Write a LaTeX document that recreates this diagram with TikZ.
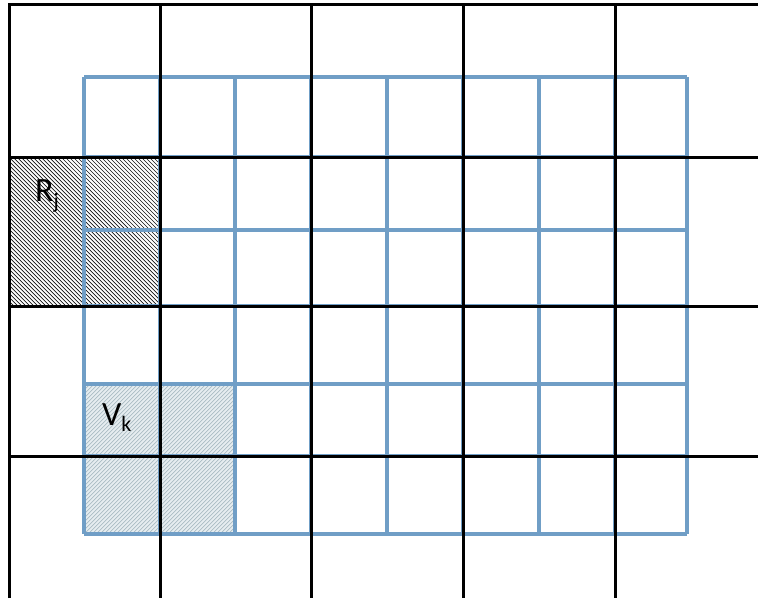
\documentclass[tikz,border=0pt]{standalone}
\usepackage{fontspec}
\setmainfont{Carlito}
\definecolor{gridblue}{RGB}{112,158,198}
\definecolor{vfill}{RGB}{230,237,240}
\definecolor{vline}{RGB}{170,188,195}
\definecolor{rline}{RGB}{20,20,20}
\begin{document}
\begin{tikzpicture}[x=1pt,y=-1pt,
  blackline/.style={line width=3pt,black},
  blueline/.style={line width=3.2pt,gridblue},
  rhatch/.style={line width=0.7pt,rline},
  vhatch/.style={line width=0.7pt,vline},
  lbl/.style={anchor=base west,inner sep=0pt,font=\fontsize{34}{38}\selectfont}]
\useasboundingbox[fill=white] (0,0) rectangle (758,598);
% hatched region R_j
\begin{scope}
  \clip (9,157) rectangle (160,306);
  \foreach \t in {-152,-148,...,156}
    \draw[rhatch] (9+\t,157) -- (9+\t+149,306);
\end{scope}
% hatched region V_k
\fill[vfill] (84,384) rectangle (235,534);
\begin{scope}
  \clip (84,384) rectangle (235,534);
  \foreach \t in {-152,-148,...,156}
    \draw[vhatch] (84+\t,534) -- (84+\t+150,384);
\end{scope}
% blue grid
\foreach \x in {84,160,235,311,387,463,539,615,687}
  \draw[blueline] (\x,77) -- (\x,534);
\foreach \y in {77,157,230,306,384,456,534}
  \draw[blueline] (84,\y) -- (687,\y);
% black grid
\draw[blackline] (9,598) -- (9,4) -- (758,4);
\foreach \x in {160,311,463,615}
  \draw[blackline] (\x,4) -- (\x,598);
\foreach \y in {157,306,456}
  \draw[blackline] (9,\y) -- (758,\y);
% labels
\node[lbl] (rj) at (35,201) {R\raisebox{-7pt}{\fontsize{22}{24}\selectfont j}};
\node[lbl] (vk) at (102,425) {V\raisebox{-6pt}{\fontsize{22}{24}\selectfont k}};
\end{tikzpicture}
\end{document}
